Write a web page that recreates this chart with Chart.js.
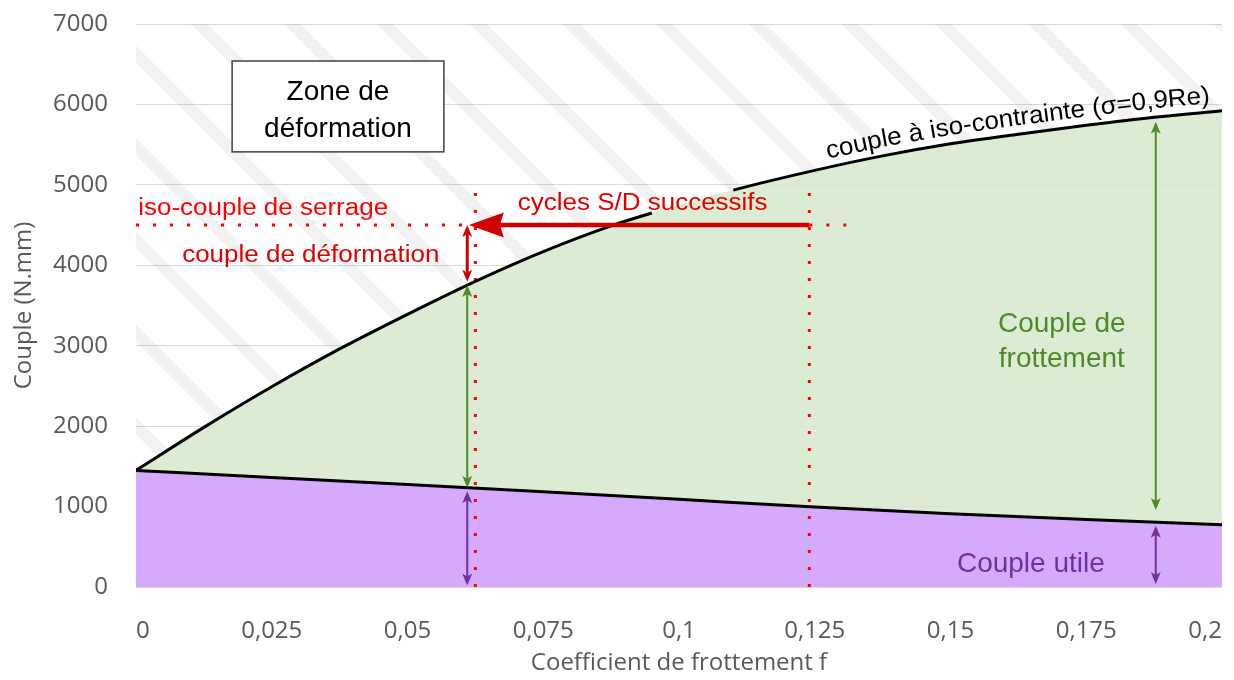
<!doctype html>
<html lang="fr">
<head>
  <meta charset="utf-8">
  <title>Couple de serrage</title>
  <script src="https://cdn.jsdelivr.net/npm/chart.js@4.4.1/dist/chart.umd.min.js"></script>
  <style>
    html, body { margin: 0; padding: 0; background: #fff; }
    #graf { display: block; }
  </style>
</head>
<body>
  <canvas id="graf" width="1234" height="680"></canvas>

  <script>
    // valeurs
    let fIso = [0, 0.0125, 0.025, 0.0375, 0.05, 0.0625, 0.075, 0.0875, 0.095, 0.11, 0.125, 0.1375, 0.15, 0.1625, 0.175, 0.1875, 0.2];
    let coupleIso = [1450, 1985, 2490, 2960, 3390, 3800, 4170, 4490, 4650, 4935, 5180, 5360, 5510, 5630, 5740, 5840, 5920];
    let fUtile = [0, 0.025, 0.05, 0.075, 0.1, 0.125, 0.15, 0.175, 0.2];
    let coupleUtile = [1450, 1360, 1275, 1185, 1090, 995, 910, 840, 775];
    let fZone = [0, 0.2];
    let coupleZone = [7000, 7000];
    let xTicks = [0, 0.025, 0.05, 0.075, 0.1, 0.125, 0.15, 0.175, 0.2];
    let yTicks = [0, 1000, 2000, 3000, 4000, 5000, 6000, 7000];

    let isoSerrage = 4500;      // iso-couple de serrage
    let fCycle = [0.0625, 0.124];  // les deux pointillés verticaux
    let hautPointilles = 4900;
    let finPointilles = 0.131;
    let trouCourbe = 0.095;     // la courbe passe sous le texte entre 0.095 et 0.11

    const pts = (xs, ys) => xs.map((x, i) => ({ x: x, y: ys[i] }));

    // hachures grises de la zone de déformation
    function hachures() {
      let c = document.createElement('canvas');
      c.width = 93; c.height = 93;
      let g = c.getContext('2d');
      g.strokeStyle = 'rgba(0,0,0,0.05)';
      g.lineWidth = 12;
      for (let k = -2; k <= 1; k++) {
        let a = 82 + k * 93;
        g.beginPath(); g.moveTo(a - 20, -20); g.lineTo(a + 113, 113); g.stroke();
      }
      return g.createPattern(c, 'repeat');
    }

    function pointe(ctx, tx, ty, ang, len, demi, creux) {
      let c = Math.cos(ang), s = Math.sin(ang);
      ctx.beginPath();
      ctx.moveTo(tx, ty);
      ctx.lineTo(tx - len * c + demi * s, ty - len * s - demi * c);
      ctx.lineTo(tx - (len - creux) * c, ty - (len - creux) * s);
      ctx.lineTo(tx - len * c - demi * s, ty - len * s + demi * c);
      ctx.closePath();
      ctx.fill();
    }

    function flecheV(ctx, x, y1, y2, coul, ep, len, demi) {
      ctx.save();
      ctx.strokeStyle = coul; ctx.fillStyle = coul; ctx.lineWidth = ep;
      ctx.beginPath(); ctx.moveTo(x, y1 + len * 0.6); ctx.lineTo(x, y2 - len * 0.6); ctx.stroke();
      pointe(ctx, x, y1, -Math.PI / 2, len, demi, len * 0.25);
      pointe(ctx, x, y2, Math.PI / 2, len, demi, len * 0.25);
      ctx.restore();
    }

    function texte(ctx, s, x, y, font, coul, align, sx) {
      ctx.save();
      ctx.font = font; ctx.fillStyle = coul; ctx.textAlign = align; ctx.textBaseline = 'alphabetic';
      ctx.translate(x, y); ctx.scale(sx || 1, 1);
      ctx.fillText(s, 0, 0);
      ctx.restore();
    }

    const ARIAL = '"Liberation Sans", Arial, sans-serif';
    const ROUGE = '#e00000', VERT = '#4f8a28', VIOLET = '#7030a0';

    const annotations = {
      id: 'annotations',
      afterDatasetsDraw(chart) {
        const ctx = chart.ctx, xs = chart.scales.x, ys = chart.scales.y;
        const X = v => xs.getPixelForValue(v), Y = v => ys.getPixelForValue(v);

        // cadre "Zone de déformation"
        ctx.save();
        ctx.fillStyle = '#fff'; ctx.strokeStyle = '#404040'; ctx.lineWidth = 1.5;
        let bx = X(0.0177), by = Y(6540);
        ctx.fillRect(bx, by, X(0.0567) - bx, Y(5410) - by);
        ctx.strokeRect(bx, by, X(0.0567) - bx, Y(5410) - by);
        ctx.restore();
        texte(ctx, 'Zone de', X(0.0372), Y(6057), '28px ' + ARIAL, '#000', 'center');
        texte(ctx, 'déformation', X(0.0372), Y(5597), '28px ' + ARIAL, '#000', 'center');

        // textes rouges
        texte(ctx, 'iso-couple de serrage', X(0.0004), Y(4627), '23px ' + ARIAL, '#ff0000', 'left', 1.13);
        texte(ctx, 'couple de déformation', X(0.0085), Y(4046), '23px ' + ARIAL, ROUGE, 'left', 1.13);
        texte(ctx, 'cycles S/D successifs', X(0.0703), Y(4689), '23px ' + ARIAL, ROUGE, 'left', 1.13);

        // grosse flèche des cycles
        ctx.save();
        ctx.strokeStyle = '#d00000'; ctx.fillStyle = '#d00000'; ctx.lineWidth = 4.5;
        let tip = X(0.0613), yS = Y(isoSerrage);
        ctx.beginPath(); ctx.moveTo(X(fCycle[1]), yS); ctx.lineTo(tip + 30, yS); ctx.stroke();
        pointe(ctx, tip, yS, Math.PI, 35, 12.5, 4);
        ctx.restore();

        // flèches verticales
        let xa = X(0.061);
        flecheV(ctx, xa, Y(4500), Y(3795), '#d00000', 3, 12, 5);
        flecheV(ctx, xa, Y(3756), Y(1235), VERT, 2, 12, 5);
        flecheV(ctx, xa, Y(1190), Y(20), VIOLET, 2, 12, 5);
        let xb = X(0.1878);
        flecheV(ctx, xb, Y(5784), Y(958), VERT, 2, 12, 5);
        flecheV(ctx, xb, Y(760), Y(37), VIOLET, 2, 12, 5);

        texte(ctx, 'Couple de', X(0.1705), Y(3176), '28px ' + ARIAL, VERT, 'center');
        texte(ctx, 'frottement', X(0.1705), Y(2740), '28px ' + ARIAL, VERT, 'center');
        texte(ctx, 'Couple utile', X(0.1648), Y(190), '28px ' + ARIAL, VIOLET, 'center');

        // étiquette qui suit la courbe iso-contrainte
        const p = chart.getDatasetMeta(3).data.map(e => ({ x: e.x, y: e.y }));
        const yc = px => {
          for (let i = 1; i < p.length; i++) {
            if (px <= p[i].x) {
              let t = (px - p[i - 1].x) / (p[i].x - p[i - 1].x);
              return p[i - 1].y + t * (p[i].y - p[i - 1].y);
            }
          }
          return p[p.length - 1].y;
        };
        ctx.save();
        ctx.font = '25px ' + ARIAL; ctx.fillStyle = '#000'; ctx.textBaseline = 'alphabetic';
        let sx = 1.04, px = X(0.1274);
        for (const ch of 'couple à iso-contrainte (σ=0,9Re)') {
          let w = ctx.measureText(ch).width * sx;
          let a = Math.atan2(yc(px + w) - yc(px), w);
          ctx.save();
          ctx.translate(px, yc(px) - 9); ctx.rotate(a); ctx.scale(sx, 1);
          ctx.fillText(ch, 0, 0);
          ctx.restore();
          px += w * Math.cos(a);
        }
        ctx.restore();
      }
    };

    const pointille = (data) => ({
      data: data, borderColor: '#ff0000', borderWidth: 3, borderDash: [3, 14],
      borderCapStyle: 'butt', pointRadius: 0, fill: false, tension: 0
    });

    const tickFont = { family: '"Open Sans"', size: 24 };

    new Chart(document.getElementById('graf'), {
      type: 'line',
      data: {
        datasets: [
          // 0 : zone hachurée jusqu'à la courbe iso-contrainte
          { data: pts(fZone, coupleZone), borderWidth: 0, pointRadius: 0, fill: '+1', backgroundColor: hachures() },
          // 1 : remplissage couple de frottement
          {
            data: pts(fIso, coupleIso), borderWidth: 0, pointRadius: 0,
            cubicInterpolationMode: 'monotone', fill: '+1', backgroundColor: 'rgba(214,231,203,0.85)'
          },
          // 2 : couple utile
          {
            data: pts(fUtile, coupleUtile), borderColor: '#000', borderWidth: 3, pointRadius: 0,
            cubicInterpolationMode: 'monotone', fill: 'origin', backgroundColor: 'rgba(206,154,250,0.85)'
          },
          // 3 : trait noir de la courbe iso-contrainte (coupé sous le texte)
          {
            data: pts(fIso, coupleIso), borderColor: '#000', borderWidth: 3, pointRadius: 0,
            cubicInterpolationMode: 'monotone', fill: false,
            segment: { borderColor: c => (c.p0.parsed.x === trouCourbe ? 'rgba(0,0,0,0)' : undefined) }
          },
          pointille([{ x: fCycle[0], y: 0 }, { x: fCycle[0], y: hautPointilles }]),
          pointille([{ x: fCycle[1], y: 0 }, { x: fCycle[1], y: hautPointilles }]),
          pointille([{ x: 0, y: isoSerrage }, { x: fCycle[0], y: isoSerrage }]),
          pointille([{ x: fCycle[1], y: isoSerrage }, { x: finPointilles, y: isoSerrage }])
        ]
      },
      options: {
        responsive: false,
        animation: false,
        events: [],
        layout: { padding: { top: 24, right: 12, left: 0, bottom: 0 } },
        plugins: {
          legend: { display: false },
          tooltip: { enabled: false },
          filler: { drawTime: 'beforeDatasetsDraw' }
        },
        scales: {
          x: {
            type: 'linear', min: 0, max: 0.2,
            afterFit: s => { s.height = 93; s.paddingLeft = 0; s.paddingRight = 0; },
            afterBuildTicks: s => { s.ticks = xTicks.map(v => ({ value: v })); },
            grid: { display: false },
            border: { display: false },
            ticks: {
              padding: 22, color: '#595959', font: tickFont, maxRotation: 0, autoSkip: false, align: 'inner',
              callback: v => String(v).replace('.', ',')
            },
            title: { display: true, text: 'Coefficient de frottement f', color: '#595959', font: tickFont, padding: { top: 0, bottom: 2 } }
          },
          y: {
            min: 0, max: 7000,
            afterFit: s => { s.width = 136; s.paddingTop = 0; s.paddingBottom = 0; },
            afterBuildTicks: s => { s.ticks = yTicks.map(v => ({ value: v })); },
            grid: { color: '#d9d9d9', drawTicks: false },
            border: { display: false },
            ticks: { padding: 28, color: '#595959', font: tickFont, autoSkip: false, callback: v => String(v) },
            title: { display: true, text: 'Couple (N.mm)', color: '#595959', font: tickFont, padding: { top: 10, bottom: 0 } }
          }
        }
      },
      plugins: [annotations]
    });
  </script>
</body>
</html>
